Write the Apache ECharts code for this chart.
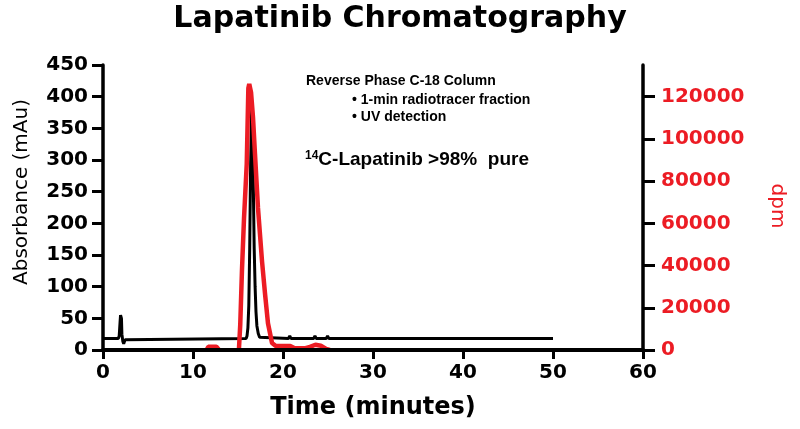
<!DOCTYPE html>
<html>
<head>
<meta charset="utf-8">
<script src="https://cdn.jsdelivr.net/npm/echarts@6/dist/echarts.min.js"></script>
<style>html,body{margin:0;padding:0;background:#fff;}#c{width:800px;height:429px;}</style>
</head>
<body>
<div id="c"></div>
<script>
// UV absorbance trace (mAu) vs time (min)
const uvTime = [0, 1.7, 1.8, 1.9, 1.95, 2.05, 2.1, 2.2, 2.3, 2.45, 2.6, 15.9, 16.0, 16.1, 16.2, 16.3, 16.4, 16.5, 16.55, 16.6, 16.7, 16.8, 16.9, 17.0, 17.1, 17.25, 17.4, 17.6, 20.6, 20.75, 20.9, 23.4, 23.55, 23.7, 24.8, 24.95, 25.1, 50];
const uvAbs  = [18, 18, 22, 45, 55, 50, 25, 14, 10, 16, 18, 18, 22, 35, 70, 160, 290, 370, 392, 360, 260, 160, 100, 60, 38, 26, 20, 18, 18, 22, 18, 18, 22, 18, 18, 22, 18, 18];
// Radiotracer trace (dpm) vs time (min); null = gap where the trace lies on the axis
const radTime = [11.5, 11.7, 12.6, 12.9, 13.0, 15.1, 15.25, 15.44, 15.67, 15.97, 16.15, 16.25, 16.45, 16.67, 16.89, 17.22, 17.67, 18.0, 18.33, 18.78, 19.2, 20.8, 21.3, 22.4, 23.0, 23.6, 24.2, 24.8, 25.2];
const radDpm  = [0, 1500, 1500, 0, null, 0, 12000, 37600, 62600, 88000, 124000, 126000, 122000, 110000, 92700, 67300, 42000, 26800, 12700, 3300, 1900, 1900, 800, 800, 1500, 2500, 2000, 500, 0];
// Tick labels
const xTicks = [0, 10, 20, 30, 40, 50, 60];
const leftTicks = [0, 50, 100, 150, 200, 250, 300, 350, 400, 450];
const rightTicks = [0, 20000, 40000, 60000, 80000, 100000, 120000];

const RED = '#ec1c24';
const chart = echarts.init(document.getElementById('c'), null, {renderer: 'canvas'});
const tickFont = {fontFamily: 'DejaVu Sans', fontWeight: 'bold', fontSize: 20};
const plain = v => String(v);

chart.setOption({
  backgroundColor: '#fff',
  animation: false,
  grid: {left: 103, right: 157, top: 65, bottom: 79, containLabel: false},
  xAxis: {
    type: 'value', min: 0, max: 60, interval: 10, z: 10,
    axisLine: {show: true, lineStyle: {color: '#000', width: 4}},
    axisTick: {show: true, length: 9, lineStyle: {color: '#000', width: 3}, customValues: xTicks},
    axisLabel: Object.assign({color: '#000', margin: 13, customValues: xTicks, formatter: plain}, tickFont),
    splitLine: {show: false}
  },
  yAxis: [{
    type: 'value', min: 0, max: 450, interval: 50, position: 'left', z: 10,
    axisLine: {show: true, lineStyle: {color: '#000', width: 3.5}},
    axisTick: {show: true, length: 11, lineStyle: {color: '#000', width: 3}, customValues: leftTicks},
    axisLabel: Object.assign({color: '#000', margin: 15, customValues: leftTicks, formatter: plain}, tickFont),
    splitLine: {show: false}
  }, {
    type: 'value', min: 0, max: 135000, interval: 20000, position: 'right', z: 10,
    axisLine: {show: true, onZero: false, lineStyle: {color: '#000', width: 3.5}},
    axisTick: {show: true, length: 12, lineStyle: {color: '#000', width: 3}, customValues: rightTicks},
    axisLabel: Object.assign({color: RED, margin: 18, customValues: rightTicks, formatter: plain}, tickFont),
    splitLine: {show: false}
  }],
  series: [{
    name: 'UV', type: 'line', yAxisIndex: 0, z: 2,
    data: uvTime.map((t, i) => [t, uvAbs[i]]),
    showSymbol: false, symbol: 'none',
    lineStyle: {color: '#000', width: 3}
  }, {
    name: 'dpm', type: 'line', yAxisIndex: 1, z: 3, connectNulls: false,
    data: radTime.map((t, i) => [t, radDpm[i] === null ? '-' : radDpm[i]]),
    showSymbol: false, symbol: 'none',
    lineStyle: {color: RED, width: 4.5}
  }],
  graphic: [
    {type: 'text', left: 'center', top: 4, style: {text: 'Lapatinib Chromatography', font: 'bold 30px "DejaVu Sans"', fill: '#000'}},
    {type: 'text', x: 22, y: 192, rotation: Math.PI / 2, style: {text: 'Absorbance (mAu)', font: '20px "DejaVu Sans"', fill: '#000', align: 'center', verticalAlign: 'middle'}},
    {type: 'text', x: 777, y: 206, rotation: -Math.PI / 2, style: {text: 'dpm', font: '20px "DejaVu Sans"', fill: RED, align: 'center', verticalAlign: 'middle'}},
    {type: 'text', x: 373, y: 408, style: {text: 'Time (minutes)', font: 'bold 24px "DejaVu Sans"', fill: '#000', align: 'center', verticalAlign: 'middle'}},
    {type: 'text', x: 306, y: 81, style: {text: 'Reverse Phase C-18 Column', font: 'bold 14px "Liberation Sans"', fill: '#000', verticalAlign: 'middle'}},
    {type: 'text', x: 352, y: 100, style: {text: '\u2022 1-min radiotracer fraction', font: 'bold 14px "Liberation Sans"', fill: '#000', verticalAlign: 'middle'}},
    {type: 'text', x: 352, y: 117, style: {text: '\u2022 UV detection', font: 'bold 14px "Liberation Sans"', fill: '#000', verticalAlign: 'middle'}},
    {type: 'text', x: 305, y: 160, style: {
      text: '{sup|14}{main|C-Lapatinib >98%  pure}', verticalAlign: 'middle',
      rich: {
        sup: {font: 'bold 12px "Liberation Sans"', fill: '#000', padding: [0, 0, 8, 0]},
        main: {font: 'bold 19px "Liberation Sans"', fill: '#000'}
      }
    }}
  ]
});
</script>
</body>
</html>
